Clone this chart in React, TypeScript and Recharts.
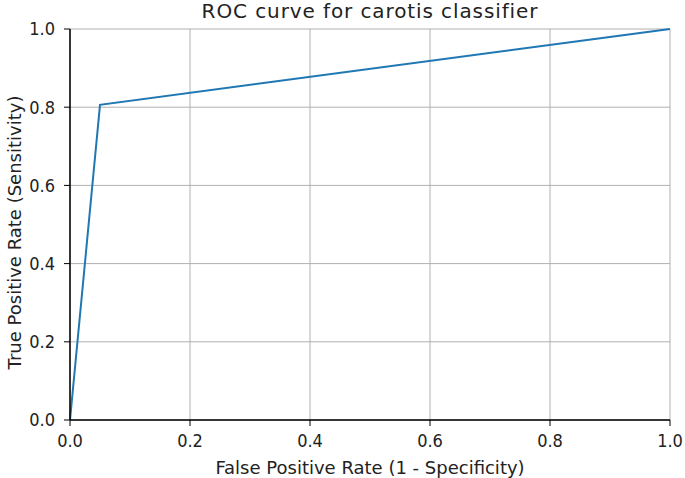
import React from 'react';
import { LineChart, Line, XAxis, YAxis, CartesianGrid } from 'recharts';

const fpr = [0, 0.05, 1];
const tpr = [0, 0.806, 1];
const ticks = [0, 0.2, 0.4, 0.6, 0.8, 1.0];

const data = fpr.map((x, i) => ({ fpr: x, tpr: tpr[i] }));

const condensed = '"DejaVu Sans Condensed", "DejaVu Sans", sans-serif';
const normal = '"DejaVu Sans", sans-serif';
const tickStyle = { fontSize: 18, fill: '#222', fontFamily: condensed };
const labelStyle = { fontSize: 18, fill: '#222', fontFamily: normal };

function YLabel({ viewBox }: any) {
  const cy = viewBox.y + viewBox.height / 2 + 8;
  return (
    <text x={21} y={cy} transform={`rotate(-90, 21, ${cy})`} textAnchor="middle" style={labelStyle}>
      True Positive Rate (Sensitivity)
    </text>
  );
}

export default function App() {
  return (
    <div style={{ position: 'absolute', left: 0, top: 0, width: 685, height: 478, background: '#fff' }}>
      <div
        style={{
          position: 'absolute',
          left: 70,
          width: 600,
          top: -1,
          textAlign: 'center',
          fontFamily: normal,
          fontSize: 20,
          letterSpacing: 0.9,
          color: '#222',
        }}
      >
        ROC curve for carotis classifier
      </div>
      <LineChart width={685} height={478} data={data} margin={{ top: 29, right: 15, bottom: 0, left: 0 }}>
        <CartesianGrid stroke="#b0b0b0" strokeWidth={1} />
        <XAxis
          dataKey="fpr"
          type="number"
          domain={[0, 1]}
          ticks={ticks}
          tickFormatter={(v: number) => v.toFixed(1)}
          height={58}
          tick={tickStyle}
          tickSize={6}
          tickMargin={8}
          axisLine={{ stroke: '#000', strokeWidth: 1.5 }}
          tickLine={{ stroke: '#000' }}
          label={{ value: 'False Positive Rate (1 - Specificity)', position: 'insideBottom', offset: 4, style: labelStyle }}
        />
        <XAxis xAxisId="top" orientation="top" type="number" domain={[0, 1]} height={0} tick={false} tickLine={false} axisLine={{ stroke: '#000', strokeWidth: 1.5 }} />
        <YAxis
          type="number"
          domain={[0, 1]}
          ticks={ticks}
          tickFormatter={(v: number) => v.toFixed(1)}
          width={70}
          tick={tickStyle}
          tickSize={6}
          tickMargin={9}
          axisLine={{ stroke: '#000', strokeWidth: 1.5 }}
          tickLine={{ stroke: '#000' }}
          label={<YLabel />}
        />
        <YAxis yAxisId="right" orientation="right" type="number" domain={[0, 1]} width={0} tick={false} tickLine={false} axisLine={{ stroke: '#000', strokeWidth: 1.5 }} />
        <Line
          type="linear"
          dataKey="tpr"
          stroke="#1f77b4"
          strokeWidth={2}
          dot={false}
          isAnimationActive={false}
        />
      </LineChart>
    </div>
  );
}
